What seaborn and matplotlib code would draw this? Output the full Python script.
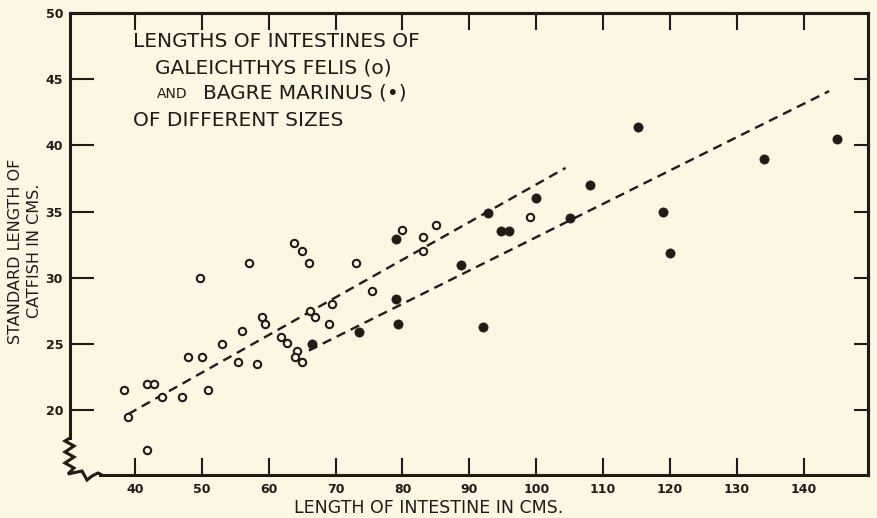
import matplotlib
matplotlib.use("Agg")
import matplotlib.pyplot as plt
import seaborn as sns

# Galeichthys felis (open circles)
felis_x = [38.4, 39, 41.8, 41.8, 42.8, 44, 47, 48, 50, 51, 53, 55.4, 56, 58.3, 59,
           59.5, 61.8, 62.8, 64.3, 63.9, 65, 66.2, 67, 69, 69.5, 75.4, 73, 66, 57,
           49.8, 63.8, 65, 80, 83, 83, 85, 99]
felis_y = [21.5, 19.5, 17, 22, 22, 21, 21, 24, 24, 21.5, 25, 23.6, 26, 23.5, 27,
           26.5, 25.5, 25.1, 24.5, 24, 23.6, 27.5, 27, 26.5, 28, 29, 31.1, 31.1, 31.1,
           30, 32.6, 32, 33.6, 33.1, 32, 34, 34.6]

# Bagre marinus (filled circles)
marinus_x = [66.5, 73.5, 79, 79, 79.4, 88.8, 92, 92.8, 94.8, 96, 100, 105, 108,
             115.2, 119, 120, 134, 145]
marinus_y = [25, 25.9, 32.9, 28.4, 26.5, 31, 26.3, 34.9, 33.5, 33.5, 36, 34.5, 37,
             41.4, 35, 31.9, 39, 40.5]

# dashed fit lines, end points
felis_fit_x = [39, 104.4]
felis_fit_y = [19.7, 38.3]
marinus_fit_x = [66, 143.8]
marinus_fit_y = [24.5, 44.1]

x_ticks = [40, 50, 60, 70, 80, 90, 100, 110, 120, 130, 140]
x_tick_labels = ["40", "50", "60", "70", "80", "90", "100", "110", "120", "130", "140"]
y_ticks = [20, 25, 30, 35, 40, 45, 50]
y_tick_labels = ["20", "25", "30", "35", "40", "45", "50"]

ink = "#231a15"
paper = "#fbf7e3"

sns.set_theme(style="ticks")
plt.rcParams["font.family"] = ["DejaVu Sans"]
plt.rcParams["text.color"] = ink

fig = plt.figure(figsize=(8.78, 5.18), dpi=100, facecolor=paper)
ax = fig.add_axes([70 / 878, 43 / 518, 798 / 878, 462 / 518])
ax.set_facecolor(paper)

dash = (0, (4, 2.6))
sns.lineplot(x=felis_fit_x, y=felis_fit_y, color=ink, lw=1.7, linestyle=dash, ax=ax)
sns.lineplot(x=marinus_fit_x, y=marinus_fit_y, color=ink, lw=1.7, linestyle=dash, ax=ax)

sns.scatterplot(x=felis_x, y=felis_y, marker="o", s=28, color=paper,
                edgecolor=ink, linewidth=1.5, ax=ax, zorder=3)
sns.scatterplot(x=marinus_x, y=marinus_y, marker="o", s=44, color=ink,
                edgecolor=ink, linewidth=0.5, ax=ax, zorder=3)

ax.set_xlim(30.3, 149.6)
ax.set_ylim(15.1, 50)
ax.set_xticks(x_ticks, labels=x_tick_labels, fontweight="bold")
ax.set_yticks(y_ticks, labels=y_tick_labels, fontweight="bold")
ax.tick_params(axis="x", direction="in", length=12, width=1.5, pad=6,
               labelsize=9, colors=ink)
ax.tick_params(axis="y", direction="in", length=17, width=1.5, pad=5,
               labelsize=9, colors=ink)

for side in ["left", "right", "top", "bottom"]:
    ax.spines[side].set_visible(True)
    ax.spines[side].set_color(ink)
    ax.spines[side].set_linewidth(2.2)
ax.spines["bottom"].set_bounds(34.8, 149.6)
ax.spines["left"].set_bounds(17.9, 50)

top = ax.secondary_xaxis("top")
top.set_xticks(x_ticks, labels=[])
top.tick_params(direction="in", length=12, width=1.5, colors=ink)
top.spines["top"].set_color(ink)
top.spines["top"].set_linewidth(2.2)

right = ax.secondary_yaxis("right")
right.set_yticks(y_ticks[:-1], labels=[])
right.tick_params(direction="in", length=10, width=1.5, colors=ink)
right.spines["right"].set_color(ink)
right.spines["right"].set_linewidth(2.2)

# broken-axis zigzag at the lower left corner (pixel positions of the original)
zig_px = [(70, 438), (65, 441), (74, 446), (65, 452), (74, 457), (65, 463),
          (74, 468), (68, 474), (82, 471), (87, 480), (92, 476), (98, 473), (102, 475)]
ax.plot([(px - 70) / 798 for px, py in zig_px], [(475 - py) / 462 for px, py in zig_px],
        color=ink, lw=2.2, transform=ax.transAxes, clip_on=False, solid_joinstyle="miter")

ax.set_xlabel("LENGTH OF INTESTINE IN CMS.", fontsize=12.5, color=ink, va="center")
ax.xaxis.set_label_coords(0.45, -0.071)
ax.set_ylabel("STANDARD LENGTH OF\nCATFISH IN CMS.", fontsize=11.5, color=ink,
              linespacing=1.35, va="center", ha="center")
ax.yaxis.set_label_coords(-0.056, 0.485)

tkw = dict(transform=ax.transAxes, fontsize=14.5, color=ink, va="baseline", ha="left")
ax.text(0.079, 0.926, "LENGTHS OF INTESTINES OF", **tkw)
ax.text(0.1065, 0.870, "GALEICHTHYS FELIS (o)", **tkw)
ax.text(0.109, 0.816, "AND", transform=ax.transAxes, fontsize=10, color=ink,
        va="baseline", ha="left")
ax.text(0.1667, 0.816, "BAGRE MARINUS (•)", **tkw)
ax.text(0.079, 0.755, "OF DIFFERENT SIZES", **tkw)

fig.savefig("out.png", dpi=100, facecolor=paper)
